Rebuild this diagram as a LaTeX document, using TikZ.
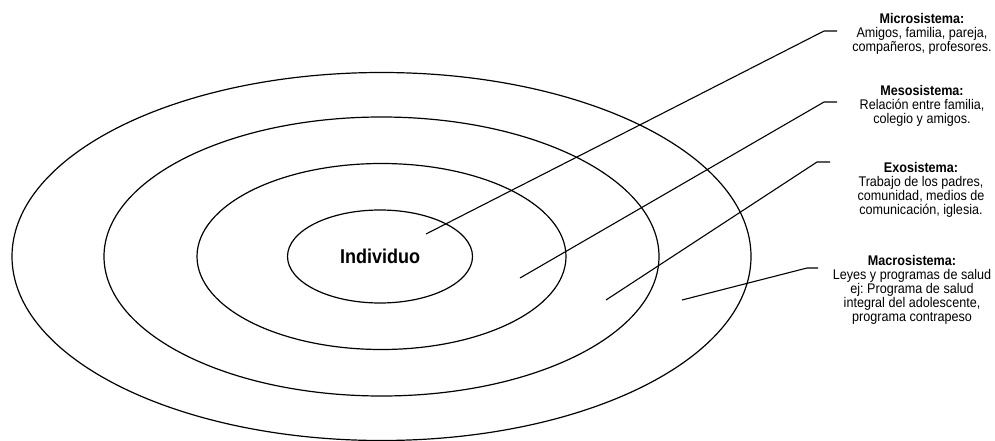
\documentclass[tikz,border=0pt]{standalone}
\usepackage{fontspec}
\setmainfont{Liberation Sans}[FakeStretch=0.9]
\usetikzlibrary{shapes.geometric}
\frenchspacing
\begin{document}
\begin{tikzpicture}[x=1pt,y=-1pt,
  ring/.style={draw=black,line width=1.2pt,ellipse,inner sep=0pt},
  conn/.style={draw=black,line width=1.1pt},
  lbl/.style={align=center,inner sep=0pt,anchor=north,
    font=\fontsize{14}{14}\selectfont\frenchspacing}]
\useasboundingbox[fill=white] (0,0) rectangle (995,441);
% rings
\node[ring,minimum width=739pt,minimum height=368pt] (macro) at (381.5,256.5) {};
\node[ring,minimum width=555pt,minimum height=279pt] (meso) at (381.5,256.5) {};
\node[ring,minimum width=369pt,minimum height=186pt] (exo) at (381.5,256.5) {};
\node[ring,minimum width=185pt,minimum height=93pt,
  font=\fontsize{20}{20}\selectfont\bfseries] (ind) at (380,256.5) {Individuo};
% labels
\node[lbl] (tmicro) at (922,13.3) {\textbf{Microsistema:}\\Amigos, familia, pareja,\\compañeros, profesores.};
\node[lbl] (tmeso) at (922,85) {\textbf{Mesosistema:}\\Relación entre familia,\\colegio y amigos.};
\node[lbl] (texo) at (921,161.7) {\textbf{Exosistema:}\\Trabajo de los padres,\\comunidad, medios de\\comunicación, iglesia.};
\node[lbl] (tmacro) at (912,255) {\textbf{Macrosistema:}\\Leyes y programas de salud\\ej: Programa de salud\\integral del adolescente,\\programa contrapeso};
% connector points
\coordinate (s1) at (426,234); \coordinate (e1) at (824,31); \coordinate (f1) at (837,31);
\coordinate (s2) at (520,278); \coordinate (e2) at (824,102); \coordinate (f2) at (837,102);
\coordinate (s3) at (606,300); \coordinate (e3) at (817,162); \coordinate (f3) at (830,162);
\coordinate (s4) at (682,300); \coordinate (e4) at (807,268); \coordinate (f4) at (818,268);
\draw[conn] (s1) -- (e1) -- (f1);
\draw[conn] (s2) -- (e2) -- (f2);
\draw[conn] (s3) -- (e3) -- (f3);
\draw[conn] (s4) -- (e4) -- (f4);
\end{tikzpicture}
\end{document}
